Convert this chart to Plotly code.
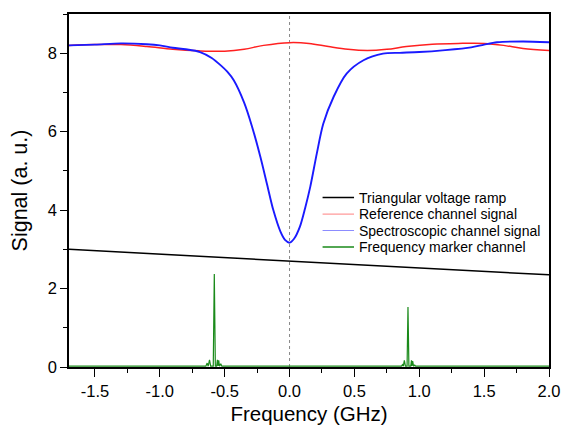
import plotly.graph_objects as go

# Triangular voltage ramp
ramp_x = [-1.7, -1.0, 0.0, 1.0, 2.0]
ramp_y = [3.00, 2.88, 2.70, 2.53, 2.35]

# Reference channel signal
ref_x = [-1.7, -1.5, -1.3, -1.1, -0.9, -0.7, -0.5, -0.35, -0.2, 0.0, 0.15, 0.3, 0.45, 0.6, 0.75, 0.9, 1.1, 1.3, 1.5, 1.65, 1.8, 2.0]
ref_y = [8.20, 8.22, 8.22, 8.17, 8.10, 8.06, 8.05, 8.10, 8.20, 8.27, 8.25, 8.17, 8.10, 8.07, 8.10, 8.17, 8.23, 8.25, 8.25, 8.20, 8.12, 8.07]

# Spectroscopic channel signal
spec_x = [-1.7, -1.5, -1.3, -1.1, -1.0, -0.9, -0.8, -0.69, -0.6, -0.53, -0.48, -0.43, -0.35, -0.29, -0.225, -0.175, -0.125,
          -0.07, -0.035, 0.0, 0.035, 0.08, 0.12, 0.16, 0.21, 0.26, 0.34, 0.44, 0.57, 0.72, 0.85,
          1.0, 1.2, 1.4, 1.5, 1.6, 1.8, 2.0]
spec_y = [8.20, 8.22, 8.25, 8.23, 8.20, 8.14, 8.10, 8.03, 7.88, 7.69, 7.53, 7.31, 6.74, 6.14, 5.36, 4.68, 4.00,
          3.45, 3.24, 3.17, 3.27, 3.58, 4.05, 4.60, 5.44, 6.20, 6.89, 7.48, 7.82, 7.99, 8.01,
          8.03, 8.08, 8.15, 8.22, 8.28, 8.30, 8.28]

# Frequency marker channel
mark_x = [-1.70, -0.645, -0.635, -0.627, -0.617, -0.608, -0.588, -0.580, -0.572, -0.562, -0.556, -0.551, -0.546, -0.540, -0.530, -0.522,
          0.862, 0.870, 0.877, 0.885, 0.893, 0.906, 0.913, 0.920, 0.934, 0.940, 0.944, 0.949, 0.956, 0.965, 0.972, 2.00]
mark_y = [0.02, 0.02, 0.10, 0.02, 0.18, 0.02, 0.02, 2.37, 0.02, 0.02, 0.18, 0.03, 0.17, 0.02, 0.08, 0.02,
          0.02, 0.06, 0.02, 0.17, 0.02, 0.02, 1.53, 0.02, 0.02, 0.17, 0.03, 0.15, 0.02, 0.05, 0.02, 0.02]

x_ticks = [-1.5, -1.0, -0.5, 0.0, 0.5, 1.0, 1.5, 2.0]
x_labels = ["-1.5", "-1.0", "-0.5", "0.0", "0.5", "1.0", "1.5", "2.0"]
y_ticks = [0, 2, 4, 6, 8]

legend_names = ["Triangular voltage ramp", "Reference channel signal",
                "Spectroscopic channel signal", "Frequency marker channel"]
legend_colors = ["#000000", "#ff9a9a", "#8c8cff", "#1a8a1a"]

W, H = 563, 429
L, R, T, B = 68.5, 13.7, 14, 61.7

fig = go.Figure()
fig.add_trace(go.Scatter(x=ramp_x, y=ramp_y, mode="lines", name=legend_names[0],
                         line=dict(color="black", width=1.5)))
fig.add_trace(go.Scatter(x=ref_x, y=ref_y, mode="lines", name=legend_names[1],
                         line=dict(color="#ff2020", width=1.5, shape="spline")))
fig.add_trace(go.Scatter(x=spec_x, y=spec_y, mode="lines", name=legend_names[2],
                         line=dict(color="#1a1aff", width=1.9, shape="spline", smoothing=0.8)))
fig.add_trace(go.Scatter(x=mark_x, y=mark_y, mode="lines", name=legend_names[3],
                         line=dict(color="#1a8a1a", width=1.2)))

fig.add_shape(type="line", x0=0, x1=0, y0=0, y1=1, xref="x", yref="paper",
              line=dict(color="#888888", width=1, dash="dot"), layer="below")

# manual legend (pixel positions converted to paper coordinates)
pw, ph = W - L - R, H - T - B
def px_to_paper(px, py):
    return (px - L) / pw, (H - B - py) / ph

for i, (name, col) in enumerate(zip(legend_names, legend_colors)):
    ypix = 197.7 + i * 16.5
    x0, yy = px_to_paper(322.5, ypix)
    x1, _ = px_to_paper(354, ypix)
    xt, _ = px_to_paper(357, ypix)
    fig.add_shape(type="line", xref="paper", yref="paper", x0=x0, x1=x1, y0=yy, y1=yy,
                  line=dict(color=col, width=1.5 if i in (0, 3) else 1.2))
    fig.add_annotation(xref="paper", yref="paper", x=xt, y=yy, text=name, showarrow=False,
                       xanchor="left", yanchor="middle", font=dict(size=14, color="black"))

fig.update_layout(
    width=W, height=H,
    margin=dict(l=L, r=R, t=T, b=B),
    paper_bgcolor="white", plot_bgcolor="white",
    font=dict(family="Liberation Sans, Arial, sans-serif", color="black"),
    showlegend=False,
    xaxis=dict(range=[-1.7, 2.0], showgrid=False, zeroline=False, showline=True, linecolor="black", linewidth=1.5,
               mirror=True, ticks="outside", ticklen=8, tickwidth=1.2, tickcolor="black",
               tickvals=x_ticks, ticktext=x_labels, tickfont=dict(size=16.5), automargin=False,
               minor=dict(dtick=0.25, ticks="outside", ticklen=4, tickwidth=1.2, tickcolor="black"),
               title=dict(text="Frequency (GHz)", font=dict(size=20.5), standoff=8)),
    yaxis=dict(range=[0, 9], showgrid=False, zeroline=False, showline=True, linecolor="black", linewidth=1.5,
               mirror=True, ticks="outside", ticklen=7, tickwidth=1.2, tickcolor="black",
               tickvals=y_ticks, tickfont=dict(size=16.5), automargin=False,
               minor=dict(dtick=1, ticks="outside", ticklen=4, tickwidth=1.2, tickcolor="black"),
               title=dict(text="Signal (a. u.)", font=dict(size=21.5), standoff=14)),
)

fig.write_html("out.html", config={"displayModeBar": False},
               post_script="document.body.style.margin='0';")
